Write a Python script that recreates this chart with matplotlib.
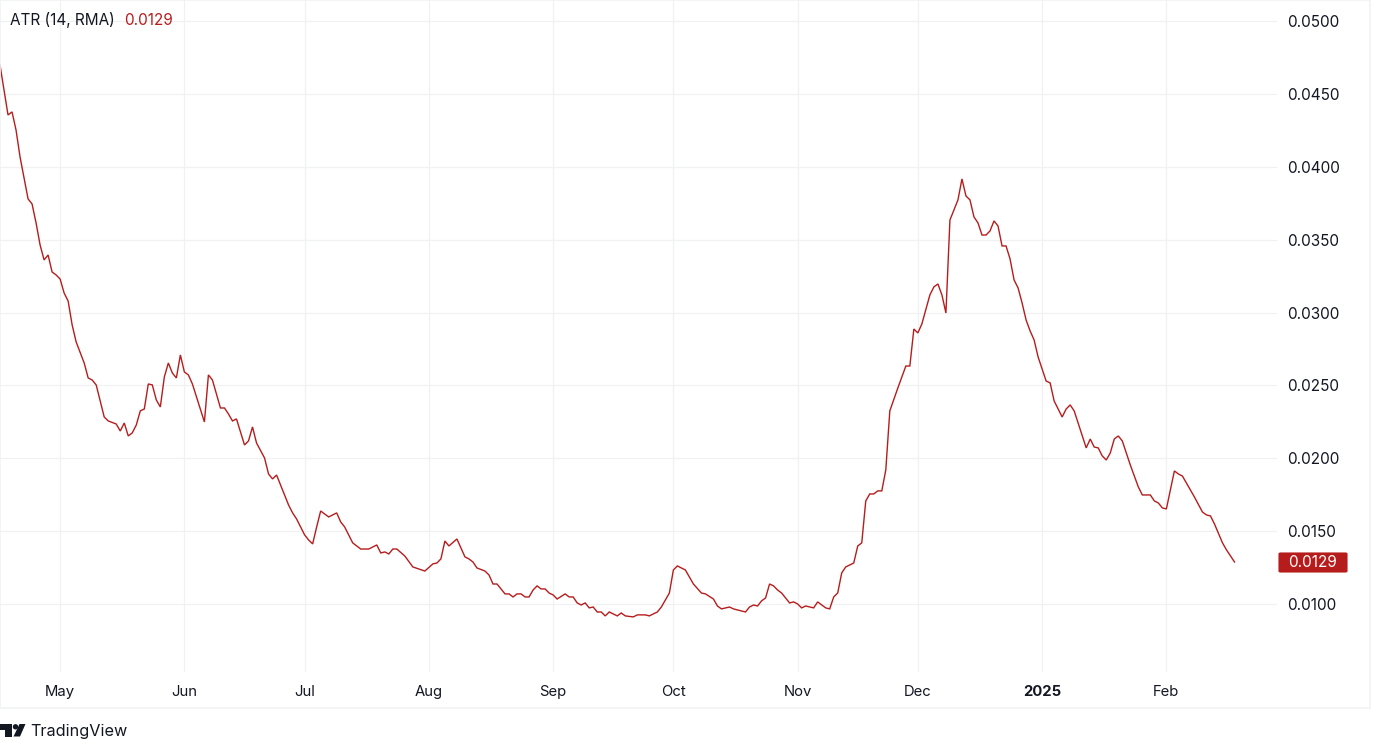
"""
ATR (14, RMA) daily line in the TradingView widget look.

Output: out.png
"""

import datetime as dt

import matplotlib
matplotlib.use("Agg")
import matplotlib.dates as mdates
import matplotlib.pyplot as plt
from matplotlib.patches import Ellipse, FancyBboxPatch, Polygon, Rectangle

W, H = 1382, 741
RED = "#b71c1c"
INK = "#131722"
GRID = "#f0f1f3"
BORDER = "#f1f2f4"

plt.rcParams["font.family"] = ["Inter", "DejaVu Sans"]

START = dt.date(2024, 4, 16)

# days since START, then ATR
days = [
    0, 2, 3, 4, 5, 7, 8, 9, 10, 11, 12, 13, 14, 15, 16, 17, 18, 19, 21, 22,
    23, 24, 26, 27, 29, 30, 31, 32, 33, 34, 35, 36, 37, 38, 39, 40, 41, 42, 43, 44,
    45, 46, 47, 48, 51, 52, 53, 55, 56, 57, 58, 59, 61, 62, 63, 64, 66, 67, 68, 69,
    70, 72, 73, 74, 76, 77, 78, 79, 80, 82, 84, 85, 86, 88, 90, 92, 94, 95, 96, 97,
    98, 99, 101, 103, 106, 108, 109, 110, 111, 112, 114, 116, 117, 118, 119, 121, 122, 123, 124, 126,
    127, 128, 129, 130, 131, 132, 133, 134, 135, 136, 137, 138, 139, 141, 142, 143, 144, 145, 146, 147,
    148, 149, 150, 151, 152, 154, 155, 156, 158, 159, 161, 162, 164, 165, 167, 168, 169, 171, 173, 175,
    176, 178, 179, 180, 182, 183, 186, 187, 188, 189, 190, 191, 192, 193, 194, 195, 197, 198, 199, 200,
    201, 203, 204, 206, 207, 208, 209, 210, 211, 213, 214, 215, 216, 217, 218, 219, 220, 221, 222, 224,
    226, 227, 228, 229, 230, 232, 233, 234, 235, 236, 237, 238, 239, 240, 241, 242, 243, 244, 245, 246,
    247, 248, 249, 250, 251, 252, 253, 254, 255, 256, 257, 258, 259, 261, 262, 263, 265, 266, 267, 268,
    271, 272, 273, 274, 275, 276, 277, 278, 279, 280, 282, 284, 285, 287, 288, 289, 290, 291, 293, 294,
    295, 298, 300, 301, 302, 303, 305, 306, 308,
]
atr = [
    0.04699, 0.04356, 0.04377, 0.04253, 0.04068, 0.03780, 0.03745, 0.03615, 0.03464, 0.03361,
    0.03395, 0.03278, 0.03258, 0.03230, 0.03134, 0.03079, 0.02915, 0.02798, 0.02654, 0.02551,
    0.02537, 0.02503, 0.02283, 0.02256, 0.02235, 0.02187, 0.02242, 0.02153, 0.02174, 0.02228,
    0.02325, 0.02338, 0.02510, 0.02503, 0.02400, 0.02352, 0.02558, 0.02654, 0.02585, 0.02551,
    0.02709, 0.02592, 0.02572, 0.02510, 0.02249, 0.02572, 0.02537, 0.02345, 0.02345, 0.02304,
    0.02256, 0.02270, 0.02091, 0.02119, 0.02215, 0.02105, 0.02002, 0.01892, 0.01858, 0.01885,
    0.01817, 0.01679, 0.01625, 0.01583, 0.01474, 0.01439, 0.01412, 0.01528, 0.01638, 0.01597,
    0.01625, 0.01563, 0.01528, 0.01419, 0.01377, 0.01377, 0.01405, 0.01350, 0.01357, 0.01343,
    0.01377, 0.01377, 0.01329, 0.01254, 0.01226, 0.01275, 0.01281, 0.01309, 0.01432, 0.01398,
    0.01446, 0.01323, 0.01309, 0.01288, 0.01247, 0.01226, 0.01199, 0.01137, 0.01137, 0.01069,
    0.01069, 0.01048, 0.01069, 0.01069, 0.01048, 0.01048, 0.01096, 0.01124, 0.01103, 0.01103,
    0.01075, 0.01062, 0.01034, 0.01069, 0.01048, 0.01048, 0.01007, 0.00993, 0.01007, 0.00973,
    0.00979, 0.00945, 0.00945, 0.00918, 0.00945, 0.00918, 0.00938, 0.00918, 0.00911, 0.00925,
    0.00925, 0.00918, 0.00945, 0.00979, 0.01075, 0.01233, 0.01261, 0.01233, 0.01137, 0.01075,
    0.01069, 0.01034, 0.00986, 0.00966, 0.00979, 0.00966, 0.00945, 0.00979, 0.00993, 0.00986,
    0.01021, 0.01041, 0.01137, 0.01124, 0.01096, 0.01075, 0.01007, 0.01014, 0.01000, 0.00973,
    0.00986, 0.00973, 0.01014, 0.00973, 0.00966, 0.01048, 0.01075, 0.01213, 0.01254, 0.01281,
    0.01398, 0.01419, 0.01707, 0.01755, 0.01755, 0.01776, 0.01776, 0.01920, 0.02325, 0.02482,
    0.02633, 0.02633, 0.02887, 0.02860, 0.02922, 0.03121, 0.03176, 0.03196, 0.03121, 0.02997,
    0.03635, 0.03704, 0.03773, 0.03917, 0.03800, 0.03773, 0.03656, 0.03615, 0.03532, 0.03532,
    0.03560, 0.03629, 0.03594, 0.03457, 0.03457, 0.03368, 0.03224, 0.03169, 0.03066, 0.02949,
    0.02874, 0.02812, 0.02695, 0.02530, 0.02517, 0.02393, 0.02283, 0.02338, 0.02366, 0.02325,
    0.02071, 0.02132, 0.02077, 0.02071, 0.02016, 0.01988, 0.02036, 0.02132, 0.02153, 0.02119,
    0.01954, 0.01803, 0.01748, 0.01748, 0.01707, 0.01693, 0.01659, 0.01652, 0.01913, 0.01892,
    0.01878, 0.01734, 0.01631, 0.01611, 0.01604, 0.01549, 0.01419, 0.01371, 0.01288,
]

y_ticks = [0.0100, 0.0150, 0.0200, 0.0250, 0.0300, 0.0350, 0.0400, 0.0450, 0.0500]
month_ticks = [
    dt.date(2024, 5, 1), dt.date(2024, 6, 1), dt.date(2024, 7, 1), dt.date(2024, 8, 1),
    dt.date(2024, 9, 1), dt.date(2024, 10, 1), dt.date(2024, 11, 1), dt.date(2024, 12, 1),
    dt.date(2025, 1, 1), dt.date(2025, 2, 1),
]
month_labels = ["May", "Jun", "Jul", "Aug", "Sep", "Oct", "Nov", "Dec", "2025", "Feb"]

dates = [START + dt.timedelta(days=d) for d in days]

fig = plt.figure(figsize=(W / 100, H / 100), dpi=100, facecolor="white")
# pane covers pixels x 0..1277, y 0..672
ax = fig.add_axes([0, 1 - 672 / H, 1277 / W, 672 / H])

ax.plot(dates, atr, color=RED, lw=1.0, solid_joinstyle="miter", zorder=3)

x0 = mdates.date2num(START)
ax.set_xlim(x0, x0 + 318.6)
ax.set_ylim(0.00533, 0.05145)
ax.yaxis.tick_right()
ax.set_yticks(y_ticks)
ax.set_yticklabels([f"{v:.4f}" for v in y_ticks])
ax.set_xticks([mdates.date2num(m) for m in month_ticks])
ax.set_xticklabels(month_labels)
ax.tick_params(axis="y", length=0, pad=7.5, labelsize=11, labelcolor=INK)
ax.tick_params(axis="x", length=0, pad=9.5, labelsize=10.7, labelcolor=INK)
for lbl in ax.get_xticklabels():
    if lbl.get_text() == "2025":
        lbl.set_fontweight("bold")
ax.grid(True, color=GRID, lw=0.9, zorder=0)
ax.set_axisbelow(True)
for s in ax.spines.values():
    s.set_visible(False)

# everything below is placed in pixels, y measured from the top
to_fig = fig.transFigure


def X(p):
    return p / W


def Y(p):
    return 1 - p / H


# outer frame of the widget
fig.add_artist(Rectangle((X(0), Y(708)), X(1370), 708 / H, transform=to_fig,
                         fill=False, ec=BORDER, lw=1.2))

# legend line
fig.text(X(10), Y(20.5), "ATR (14, RMA)", color=INK, fontsize=11, va="center")
fig.text(X(124), Y(20.5), f"{atr[-1]:.4f}", color=RED, fontsize=11, va="center")

# last value tag on the price scale
fig.add_artist(FancyBboxPatch((X(1279), Y(572)), X(68), 19 / H, transform=to_fig,
                              boxstyle="round,pad=0,rounding_size=0.0012",
                              fc=RED, ec=RED, lw=0.8))
fig.text(X(1288), Y(562.5), f"{atr[-1]:.4f}", color="white", fontsize=11, va="center")

# logo
fig.add_artist(Polygon([(X(0), Y(724)), (X(11.5), Y(724)), (X(11.5), Y(736.5)), (X(5.5), Y(736.5)),
                        (X(5.5), Y(729.5)), (X(0), Y(729.5))], transform=to_fig, fc=INK, ec="none"))
fig.add_artist(Ellipse((X(15.5), Y(726.8)), 5.4 / W, 5.4 / H, transform=to_fig, fc=INK, ec="none"))
fig.add_artist(Polygon([(X(19.5), Y(724)), (X(25.5), Y(724)), (X(20), Y(736.5)), (X(13.5), Y(736.5))],
                       transform=to_fig, fc=INK, ec="none"))
fig.text(X(30), Y(731.5), "TradingView", color=INK, fontsize=11.7, va="center")

fig.savefig("out.png", dpi=100)
plt.close(fig)
